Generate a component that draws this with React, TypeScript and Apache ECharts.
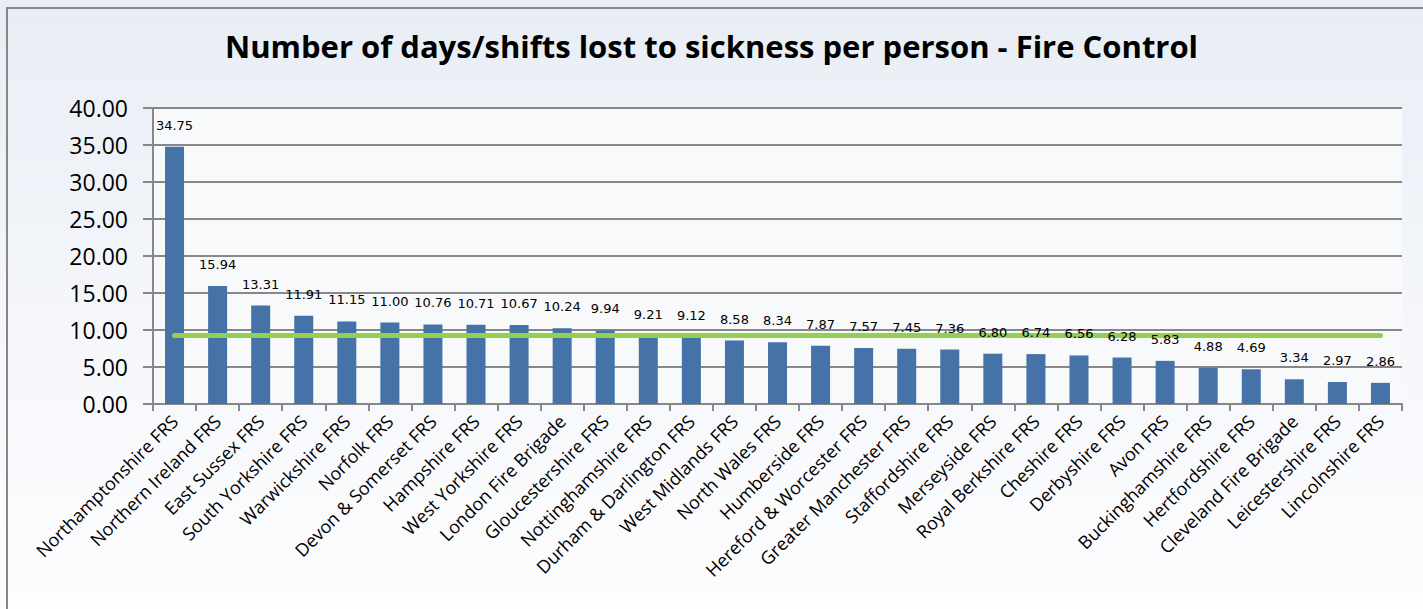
import React, { useEffect, useRef } from "react";
import * as echarts from "echarts";

const TITLE = "Number of days/shifts lost to sickness per person - Fire Control";

const categories = [
  "Northamptonshire FRS",
  "Northern Ireland FRS",
  "East Sussex FRS",
  "South Yorkshire FRS",
  "Warwickshire FRS",
  "Norfolk FRS",
  "Devon & Somerset FRS",
  "Hampshire FRS",
  "West Yorkshire FRS",
  "London Fire Brigade",
  "Gloucestershire FRS",
  "Nottinghamshire FRS",
  "Durham & Darlington FRS",
  "West Midlands FRS",
  "North Wales FRS",
  "Humberside FRS",
  "Hereford & Worcester FRS",
  "Greater Manchester FRS",
  "Staffordshire FRS",
  "Merseyside FRS",
  "Royal Berkshire FRS",
  "Cheshire FRS",
  "Derbyshire FRS",
  "Avon FRS",
  "Buckinghamshire FRS",
  "Hertfordshire FRS",
  "Cleveland Fire Brigade",
  "Leicestershire FRS",
  "Lincolnshire FRS",
];

const daysLost = [
  34.75, 15.94, 13.31, 11.91, 11.15, 11.0, 10.76, 10.71, 10.67, 10.24, 9.94,
  9.21, 9.12, 8.58, 8.34, 7.87, 7.57, 7.45, 7.36, 6.8, 6.74, 6.56, 6.28, 5.83,
  4.88, 4.69, 3.34, 2.97, 2.86,
];

const averageValue = 9.3;

const yTicks = { min: 0, max: 40, interval: 5 };

export default function App() {
  const ref = useRef<HTMLDivElement>(null);

  useEffect(() => {
    if (!ref.current) return;
    const chart = echarts.init(ref.current, null, { renderer: "svg" });
    const font = "'Open Sans', 'Noto Sans', sans-serif";
    chart.setOption({
      animation: false,
      backgroundColor: {
        type: "linear",
        x: 0,
        y: 0,
        x2: 0,
        y2: 1,
        colorStops: [
          { offset: 0, color: "#e8edf5" },
          { offset: 0.5, color: "#f4f6fa" },
          { offset: 1, color: "#fdfdfe" },
        ],
      },
      graphic: [
        {
          type: "rect",
          shape: { x: 7, y: 8, width: 1440, height: 640 },
          style: { fill: "none", stroke: "#878787", lineWidth: 2 },
          silent: true,
          z: 100,
        },
      ],
      title: {
        text: TITLE,
        left: "center",
        top: 25,
        textStyle: {
          fontFamily: font,
          fontWeight: "bold",
          fontSize: 31,
          color: "#000",
        },
      },
      grid: {
        left: 153,
        right: 21,
        top: 108,
        bottom: 205,
        show: true,
        backgroundColor: "#f8f9fb",
        borderWidth: 0,
      },
      xAxis: {
        type: "category",
        data: categories,
        axisLine: { show: true, lineStyle: { color: "#878787", width: 2 } },
        axisTick: {
          show: true,
          length: 7,
          alignWithLabel: false,
          lineStyle: { color: "#878787", width: 2 },
        },
        axisLabel: {
          interval: 0,
          rotate: 45,
          margin: 14,
          fontFamily: font,
          fontSize: 18,
          color: "#000",
        },
      },
      yAxis: {
        type: "value",
        min: yTicks.min,
        max: yTicks.max,
        interval: yTicks.interval,
        axisLine: { show: true, lineStyle: { color: "#878787", width: 2 } },
        axisTick: {
          show: true,
          length: 10,
          lineStyle: { color: "#878787", width: 2 },
        },
        splitLine: { show: true, lineStyle: { color: "#878787", width: 2 } },
        axisLabel: {
          margin: 25,
          fontFamily: font,
          fontSize: 23,
          color: "#000",
          formatter: (v: number) => v.toFixed(2),
        },
      },
      series: [
        {
          type: "bar",
          name: "days",
          data: daysLost,
          barWidth: 19,
          z: 2,
          itemStyle: { color: "#4572a7" },
          markLine: {
            silent: true,
            symbol: "none",
            z: 5,
            label: { show: false },
            lineStyle: { color: "#92d050", width: 5, type: "solid", cap: "round" },
            data: [
              [
                { xAxis: categories[0], yAxis: averageValue },
                { xAxis: categories[categories.length - 1], yAxis: averageValue },
              ],
            ],
          },
        },
        {
          type: "bar",
          name: "labels",
          data: daysLost,
          barWidth: 19,
          barGap: "-100%",
          z: 10,
          silent: true,
          itemStyle: { color: "rgba(0,0,0,0)" },
          label: {
            show: true,
            position: "top",
            distance: 15,
            fontFamily: "'DejaVu Sans', sans-serif",
            fontSize: 13,
            color: "#000",
            formatter: (p: any) => Number(p.value).toFixed(2),
          },
        },
      ],
    });
    return () => chart.dispose();
  }, []);

  return (
    <div
      ref={ref}
      style={{ position: "fixed", left: 0, top: 0, width: 1423, height: 609 }}
    />
  );
}
